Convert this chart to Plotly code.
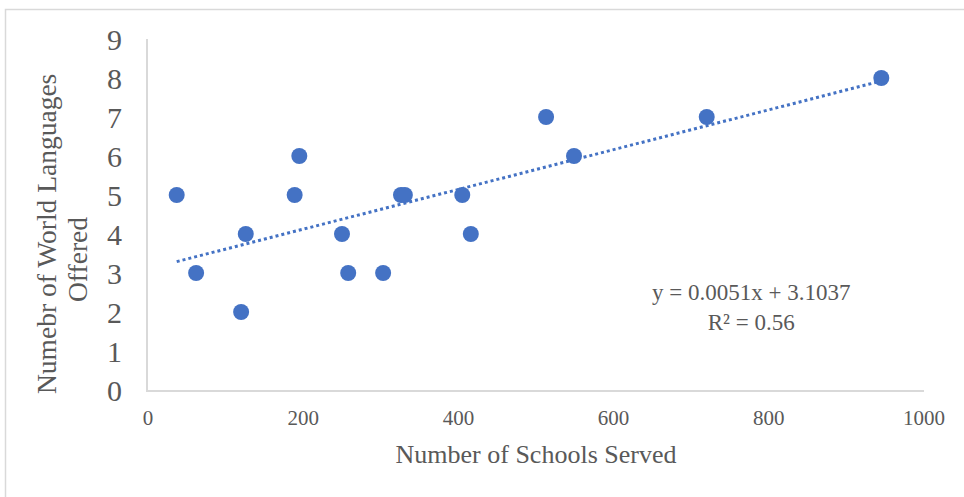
import plotly.graph_objects as go

schools = [37, 62, 120, 126, 189, 195, 250, 258, 303, 326, 331, 405, 416, 513, 549, 720, 945]
languages = [5, 3, 2, 4, 5, 6, 4, 3, 3, 5, 5, 5, 4, 7, 6, 7, 8]
slope = 0.0051
intercept = 3.1037
r_squared = 0.56
x_ticks = [0, 200, 400, 600, 800, 1000]
y_ticks = [0, 1, 2, 3, 4, 5, 6, 7, 8, 9]
y_title_lines = ["Numebr of World Languages", "Offered"]
x_title = "Number of Schools Served"

W, H = 964, 497
L, T = 148, 39
pw, ph = 776, 351
R = W - L - pw
B = H - T - ph

def px_x(p):
    return (p - L) / pw

def px_y(p):
    return (T + ph - p) / ph

font = "Liberation Serif, Times New Roman, serif"
gray = "#595959"
blue = "#4472C4"

trend_x = [min(schools), max(schools)]
trend_y = [slope * v + intercept for v in trend_x]

fig = go.Figure()
fig.add_trace(go.Scatter(x=trend_x, y=trend_y, mode="lines",
                         line=dict(color=blue, width=3, dash="dot"),
                         hoverinfo="skip", showlegend=False))
fig.add_trace(go.Scatter(x=schools, y=languages, mode="markers",
                         marker=dict(color=blue, size=16),
                         showlegend=False))

fig.update_layout(
    width=W, height=H,
    margin=dict(l=L, r=R, t=T, b=B),
    paper_bgcolor="white", plot_bgcolor="white",
    font=dict(family=font, color=gray),
    xaxis=dict(range=[0, 1000], tickvals=x_ticks, showgrid=False, zeroline=False,
               showline=True, linecolor="#D9D9D9", linewidth=2,
               tickfont=dict(size=21, color=gray), ticks="outside", ticklen=8,
               tickcolor="rgba(0,0,0,0)",
               title=dict(text=x_title, font=dict(size=26, color=gray), standoff=16)),
    yaxis=dict(range=[0, 9], tickvals=y_ticks, showgrid=False, zeroline=False,
               showline=True, linecolor="#D9D9D9", linewidth=2,
               tickfont=dict(size=30, color=gray), ticks="outside", ticklen=18,
               tickcolor="rgba(0,0,0,0)"),
)

for text, cx, cy in zip(y_title_lines, [46, 77], [234, 260]):
    fig.add_annotation(x=px_x(cx), y=px_y(cy), xref="paper", yref="paper",
                       xanchor="center", yanchor="middle", textangle=-90,
                       text=text, showarrow=False,
                       font=dict(size=27.5, color=gray, family=font))

fig.add_annotation(x=px_x(751), y=px_y(307), xref="paper", yref="paper",
                   xanchor="center", yanchor="middle",
                   text=f"y = {slope}x + {intercept}<br>R² = {r_squared}",
                   showarrow=False, align="center",
                   font=dict(size=23, color=gray, family=font))

fig.add_shape(type="rect", xref="paper", yref="paper",
              x0=px_x(5.5), x1=px_x(1000), y0=px_y(530), y1=px_y(9.5),
              line=dict(color="#D9D9D9", width=1.5), layer="below")

fig.write_html("out.html", config={"displayModeBar": False},
               post_script="document.body.style.margin='0';")
